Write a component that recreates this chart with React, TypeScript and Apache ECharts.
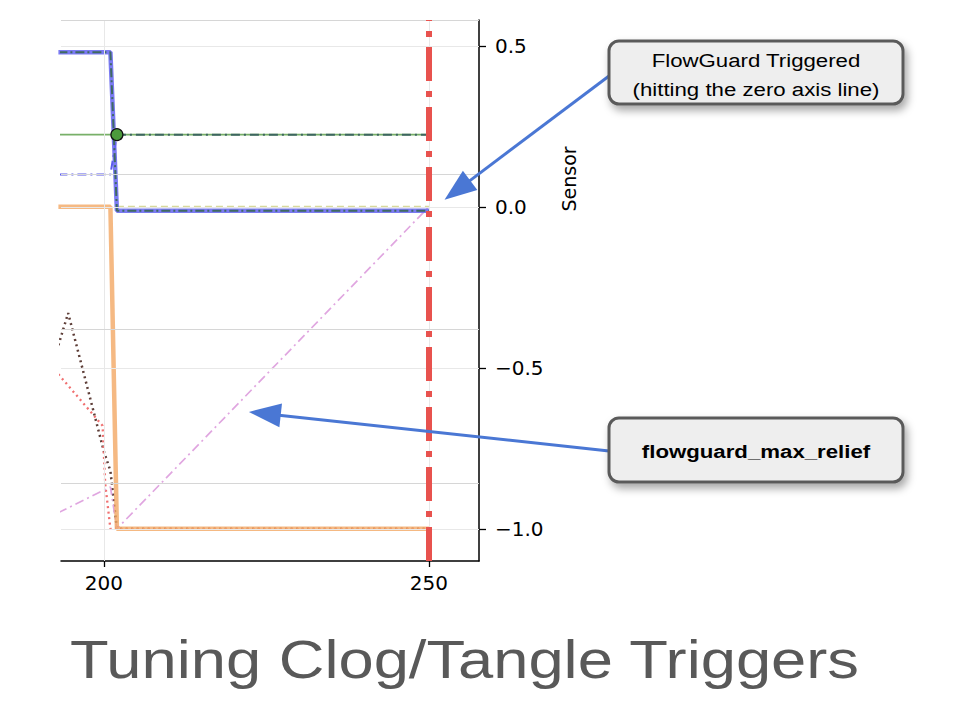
import { useEffect, useRef } from "react";
import * as echarts from "echarts";

// visible window of the run (the figure is a crop of a longer trace)
const xRange = [193.4, 257.7];
const sensorRange = [-1.1, 0.58];
const secondaryRange = [-0.5, 3];

const xTicks = [200, 250];
const sensorTicks = [-1, -0.5, 0, 0.5];
const secondaryTicks = [0, 1, 2, 3];

const valvePosition = [[193, 0.48], [201, 0.48], [202, -0.012], [250, -0.012]];
const flowRate = [[193, 0], [201, 0], [202, -1], [250, -1]];
const setpointLevel = [[193, 0.224], [202, 0.224], [250, 0.224]];
const triggerLevel = [[202, 0.224], [250, 0.224]];
const triggerPoint = [[202, 0.224]];
const pressureTrace = [[193, 0.1], [201, 0.1], [202, 0.224]];
const zeroReference = [[202, 0], [250, 0]];
const maxRelief = [[193, -0.95], [201, -0.87], [202, -1], [250, 0]];
const clogTrace = [[193, -0.43], [194.5, -0.33], [200, -0.76], [201, -0.82], [202, -1], [250, -1]];
const tangleTrace = [[193, -0.52], [199.8, -0.68], [200.2, -0.86], [201, -1], [250, -1]];
const triggerTime = 250;

const titleText = "Tuning Clog/Tangle Triggers";
const noteTriggered = ["FlowGuard Triggered", "(hitting the zero axis line)"];
const noteRelief = "flowguard_max_relief";
const triggeredTarget = [252.4, 0.022];
const reliefTarget = [222.3, -0.637];

const ARROW = "#4a77d4";
const TICK_FONT = "DejaVu Sans";
const BOX_FONT = "Liberation Sans";

function lineSeries(data: number[][], color: string, width: number, type: any) {
  return {
    type: "line",
    data,
    symbol: "none",
    showSymbol: false,
    silent: true,
    clip: true,
    lineStyle: { color, width, type, cap: "butt" },
  };
}

function arrow(from: number[], tip: number[]) {
  const dx = tip[0] - from[0];
  const dy = tip[1] - from[1];
  const len = Math.sqrt(dx * dx + dy * dy);
  const ux = dx / len;
  const uy = dy / len;
  const headLen = 32;
  const half = 12;
  const bx = tip[0] - ux * headLen;
  const by = tip[1] - uy * headLen;
  return [
    {
      type: "line",
      shape: { x1: from[0], y1: from[1], x2: bx + ux * 4, y2: by + uy * 4 },
      style: { stroke: ARROW, lineWidth: 3 },
      z: 100,
    },
    {
      type: "polygon",
      shape: {
        points: [
          [tip[0], tip[1]],
          [bx - uy * half, by + ux * half],
          [bx + uy * half, by - ux * half],
        ],
      },
      style: { fill: ARROW },
      z: 100,
    },
  ];
}

function noteBox(x: number, y: number, w: number, h: number) {
  return {
    type: "rect",
    shape: { x, y, width: w, height: h, r: 10 },
    style: {
      fill: "#eeeeee",
      stroke: "#5a5a5a",
      lineWidth: 3,
      shadowBlur: 8,
      shadowOffsetX: 3,
      shadowOffsetY: 5,
      shadowColor: "rgba(0,0,0,0.35)",
    },
    z: 101,
  };
}

function boxText(text: string, x: number, y: number, bold = false) {
  return {
    type: "text",
    x,
    y,
    scaleX: 1.17,
    z: 102,
    style: {
      text,
      fill: "#000",
      font: `${bold ? "bold " : ""}19px "${BOX_FONT}", Arial, sans-serif`,
      align: "center",
      verticalAlign: "middle",
    },
  };
}

export default function App() {
  const ref = useRef<HTMLDivElement>(null);

  useEffect(() => {
    if (!ref.current) return;
    const chart = echarts.init(ref.current, null, { renderer: "svg" });

    const sensorLabel = (v: number) => (v < 0 ? "\u2212" : "") + Math.abs(v).toFixed(1);

    chart.setOption({
      animation: false,
      backgroundColor: "#ffffff",
      grid: { left: 61, right: 479, top: 20, bottom: 161, containLabel: false, outerBoundsMode: "none" },
      xAxis: {
        type: "value",
        min: xRange[0],
        max: xRange[1],
        axisLine: { show: true, onZero: false, lineStyle: { color: "#000", width: 1.5 } },
        axisTick: { show: true, length: 6, customValues: xTicks, lineStyle: { color: "#000", width: 1.3 } },
        axisLabel: {
          customValues: xTicks,
          formatter: (v: number) => String(v),
          fontFamily: TICK_FONT,
          fontSize: 20,
          color: "#000",
          margin: 12,
        },
        splitLine: { show: false },
      },
      yAxis: [
        {
          type: "value",
          position: "right",
          min: sensorRange[0],
          max: sensorRange[1],
          axisLine: { show: true, onZero: false, lineStyle: { color: "#000", width: 1.5 } },
          axisTick: { show: true, length: 7, customValues: sensorTicks, lineStyle: { color: "#000", width: 1.3 } },
          axisLabel: {
            customValues: sensorTicks,
            formatter: sensorLabel,
            fontFamily: TICK_FONT,
            fontSize: 20,
            color: "#000",
            margin: 16,
          },
          splitLine: { show: false },
        },
        {
          type: "value",
          position: "left",
          min: secondaryRange[0],
          max: secondaryRange[1],
          show: false,
          splitLine: { show: false },
        },
      ],
      series: [
        {
          type: "line",
          data: [],
          silent: true,
          z: 1,
          markLine: {
            silent: true,
            symbol: ["none", "none"],
            label: { show: false },
            lineStyle: { color: "#e8e8e8", width: 1, type: "solid" },
            data: [
              ...sensorTicks.map((v) => ({ yAxis: v })),
              ...xTicks.map((v) => ({ xAxis: v })),
            ],
          },
        },
        {
          type: "line",
          data: [],
          yAxisIndex: 1,
          silent: true,
          z: 1,
          markLine: {
            silent: true,
            symbol: ["none", "none"],
            label: { show: false },
            lineStyle: { color: "#d6d6d6", width: 1, type: "solid" },
            data: secondaryTicks.map((v) => ({ yAxis: v })),
          },
        },
        lineSeries(clogTrace, "#5e3e38", 2.5, [2, 3.5]),
        lineSeries(tangleTrace, "#f07070", 2.3, [2, 3.5]),
        lineSeries(maxRelief, "#e0a6e0", 1.7, [9, 4, 2, 4]),
        lineSeries(flowRate, "rgba(243,167,100,0.8)", 4.5, "solid"),
        lineSeries(zeroReference, "#d8d99c", 2, [7, 4]),
        lineSeries(setpointLevel, "#78b068", 1.8, "solid"),
        lineSeries(pressureTrace, "#5a5aec", 2, [9, 4, 2, 4]),
        lineSeries(valvePosition, "rgba(105,105,240,0.88)", 4.5, "solid"),
        lineSeries(valvePosition, "#3f6a62", 2, [9, 3, 2, 3]),
        lineSeries(triggerLevel, "#3d6560", 2, [9, 4, 2, 4]),
        {
          type: "line",
          data: [],
          silent: true,
          z: 3,
          markLine: {
            silent: true,
            symbol: ["none", "none"],
            label: { show: false },
            lineStyle: { color: "#e8524e", width: 6, type: [34, 10, 6, 10], cap: "butt" },
            data: [{ xAxis: triggerTime }],
          },
        },
        {
          type: "scatter",
          data: triggerPoint,
          symbol: "circle",
          symbolSize: 12,
          silent: true,
          z: 4,
          itemStyle: { color: "#4c9a3c", borderColor: "#111", borderWidth: 1.2, opacity: 1 },
        },
      ],
    });

    const toPx = (p: number[]) =>
      chart.convertToPixel({ xAxisIndex: 0, yAxisIndex: 0 }, p) as number[];

    chart.setOption({
      graphic: [
        {
          type: "text",
          x: 569,
          y: 179,
          rotation: Math.PI / 2,
          style: {
            text: "Sensor",
            fill: "#000",
            font: `19px "${TICK_FONT}", sans-serif`,
            align: "center",
            verticalAlign: "middle",
          },
        },
        ...arrow([609, 76], toPx(triggeredTarget)),
        ...arrow([609, 451], toPx(reliefTarget)),
        noteBox(609, 41, 294, 63),
        boxText(noteTriggered[0], 756, 60),
        boxText(noteTriggered[1], 756, 89),
        noteBox(609, 418, 294, 64),
        boxText(noteRelief, 756, 451, true),
        {
          type: "text",
          x: 70,
          y: 659,
          scaleX: 1.172,
          style: {
            text: titleText,
            fill: "#595959",
            font: `54px "Liberation Sans", Arial, sans-serif`,
            align: "left",
            verticalAlign: "middle",
          },
        },
      ],
    });

    return () => chart.dispose();
  }, []);

  return (
    <div
      ref={ref}
      style={{ position: "fixed", left: 0, top: 0, width: 958, height: 722, background: "#fff" }}
    />
  );
}
